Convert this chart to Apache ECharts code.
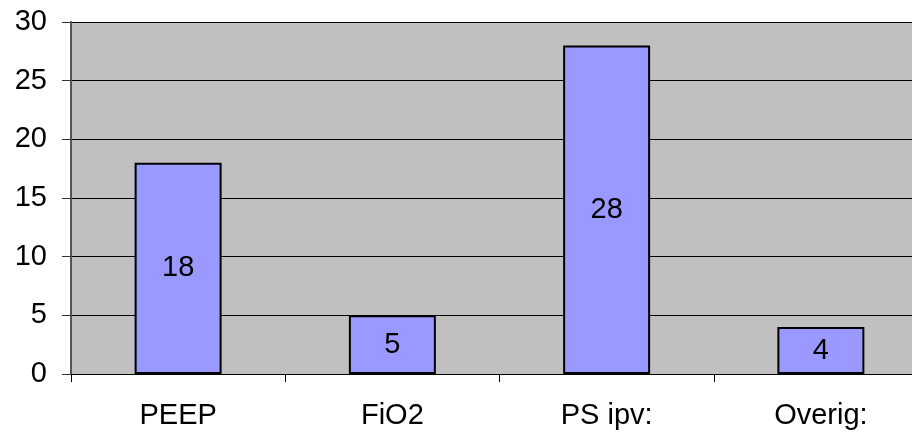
<!DOCTYPE html>
<html>
<head>
<meta charset="utf-8">
<script src="https://cdn.jsdelivr.net/npm/echarts@6/dist/echarts.min.js"></script>
<style>
  html, body { margin: 0; padding: 0; background: #fff; }
  #main { width: 912px; height: 434px; }
</style>
</head>
<body>
<div id="main"></div>
<script>
// data
const categories = ["PEEP", "FiO2", "PS ipv:", "Overig:"];
const counts = [18, 5, 28, 4];
const yTicks = [0, 5, 10, 15, 20, 25, 30];

var myChart = echarts.init(document.getElementById("main"));

var option = {
  animation: false,
  grid: {
    left: 71,
    top: 22,
    width: 857,
    bottom: 60,
    containLabel: false,
    outerBoundsMode: "none",
    show: true,
    backgroundColor: "#C0C0C0",
    borderWidth: 0,
  },
  xAxis: {
    type: "category",
    data: categories,
    axisLine: { lineStyle: { color: "#000", width: 1 } },
    axisTick: { show: true, length: 8, lineStyle: { color: "#000" } },
    axisLabel: {
      color: "#000",
      fontSize: 29,
      fontFamily: "Liberation Sans, Arial",
      margin: 27,
    },
  },
  yAxis: {
    type: "value",
    min: yTicks[0],
    max: yTicks[yTicks.length - 1],
    interval: 5,
    axisLine: { show: true, lineStyle: { color: "#555", width: 2 } },
    axisTick: { show: true, length: 9, lineStyle: { color: "#333" } },
    axisLabel: {
      color: "#000",
      fontSize: 29,
      fontFamily: "Liberation Sans, Arial",
      margin: 24,
    },
    splitLine: { show: true, lineStyle: { color: "#000", width: 1 } },
  },
  series: [
    {
      type: "bar",
      data: counts,
      barWidth: "40.6%",
      itemStyle: {
        color: "#9999FF",
        borderColor: "#000",
        borderWidth: 2,
      },
      label: {
        show: true,
        position: "inside",
        color: "#000",
        fontSize: 29,
        fontFamily: "Liberation Sans, Arial",
      },
    },
  ],
};

myChart.setOption(option);
</script>
</body>
</html>
